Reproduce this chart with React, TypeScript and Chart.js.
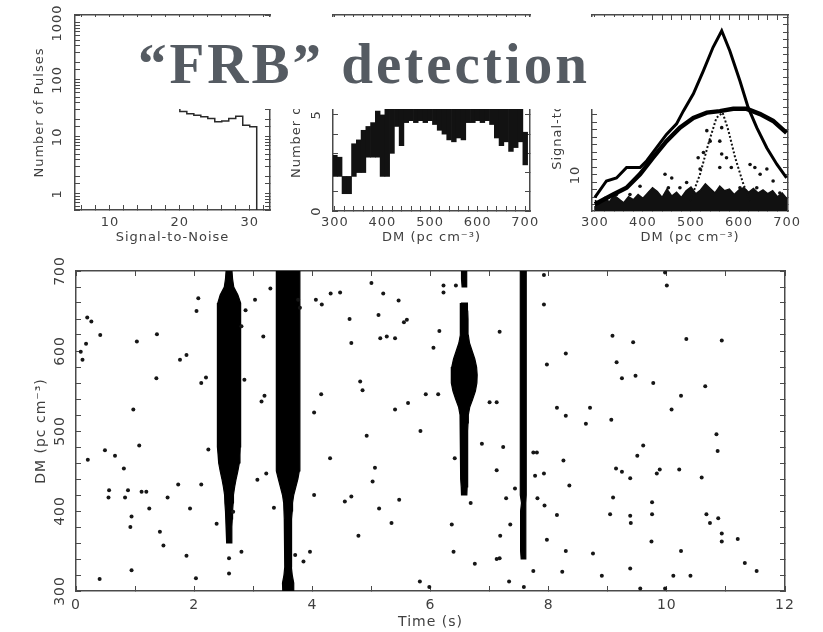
import React, { useEffect, useRef } from "react";
import { Chart, registerables } from "chart.js";
Chart.register(...registerables);

// ---------------- top-left: number of pulses vs signal-to-noise ----------------
const snrBins = [6, 7, 8, 9, 10, 11, 12, 13, 14, 15, 16, 17, 18, 19, 20, 21, 22, 23, 24, 25, 26, 27, 28, 29, 30, 31, 31];
const pulseCounts = [1100, 640, 410, 280, 205, 160, 128, 104, 88, 74, 63, 54, 46, 40, 34, 28, 25.5, 24, 22.5, 21, 18.5, 19, 21, 23, 16, 15, 0.3];

// ---------------- top-middle: number of pulses vs DM (floating histogram) ----------------
const histDM = [300, 310, 320, 330, 340, 350, 360, 370, 380, 390, 400, 410, 420, 430, 440, 450, 460, 470, 480, 490, 500, 510, 520, 530, 540, 550, 560, 570, 580, 590, 600, 610, 620, 630, 640, 650, 660, 670, 680, 690, 700];
const histLow = [1.8, 1.8, 0.9, 0.9, 1.8, 2.0, 2.0, 2.8, 2.8, 2.8, 1.8, 1.8, 3.0, 4.4, 3.4, 4.6, 4.7, 4.6, 4.7, 4.6, 4.7, 4.5, 4.2, 4.0, 3.7, 3.6, 3.8, 3.7, 4.6, 4.6, 4.7, 4.6, 4.7, 4.5, 3.8, 3.4, 3.6, 3.1, 3.3, 3.6, 2.4];
const histHigh = [2.9, 2.8, 1.8, 1.8, 3.5, 3.7, 4.2, 4.4, 4.6, 5.2, 5.0, 5.6, 6.3, 6.8, 7.4, 7.0, 7.8, 7.2, 8.0, 7.5, 7.9, 7.1, 7.6, 8.1, 7.4, 7.7, 8.4, 7.8, 7.2, 7.9, 7.5, 7.0, 7.6, 7.1, 6.8, 7.3, 6.6, 6.9, 6.2, 5.8, 4.1];

// ---------------- top-right: signal-to-noise vs DM ----------------
const triDM = [300, 324, 345, 366, 394, 408, 428, 449, 470, 484, 505, 526, 546, 564, 581, 602, 619, 637, 658, 679, 699];
const triSN = [7.0, 9.2, 9.6, 11.0, 11.0, 11.9, 13.6, 15.4, 16.8, 18.5, 20.8, 23.9, 27.0, 29.2, 26.5, 22.5, 19.0, 16.3, 13.6, 11.4, 9.6];
const broadDM = [300, 338, 366, 394, 421, 449, 477, 505, 533, 560, 588, 616, 644, 671, 699];
const broadSN = [6.1, 7.4, 8.3, 10.1, 12.3, 14.5, 16.3, 17.6, 18.3, 18.5, 18.8, 18.8, 18.1, 17.2, 15.6];
const narrowDM = [498, 519, 536, 553, 566, 578, 592, 609, 623];
const narrowSN = [6.5, 10.1, 14.1, 17.6, 18.3, 15.9, 12.3, 8.8, 6.5];
const noiseDM = [300, 310, 320, 330, 340, 350, 360, 370, 380, 390, 400, 410, 420, 430, 440, 450, 460, 470, 480, 490, 500, 510, 520, 530, 540, 550, 560, 570, 580, 590, 600, 610, 620, 630, 640, 650, 660, 670, 680, 690, 700];
const noiseSN = [6.6, 6.2, 7.0, 6.4, 7.3, 6.8, 6.3, 7.1, 6.7, 7.4, 6.9, 7.6, 8.3, 7.8, 7.0, 8.1, 7.2, 7.7, 7.0, 7.9, 8.4, 7.5, 8.0, 8.8, 8.2, 7.6, 8.5, 7.9, 8.1, 7.4, 8.0, 8.3, 7.7, 8.2, 7.6, 8.0, 7.5, 7.9, 7.1, 7.6, 6.8];
const rtDotDM = [446, 460, 453, 533, 540, 526, 515, 519, 564, 560, 564, 560, 574, 584, 623, 633, 644, 658, 671, 477, 491, 394, 414, 373, 345, 602, 616, 685, 637];
const rtDotSN = [10.1, 9.6, 8.3, 15.9, 14.5, 13.0, 12.3, 10.8, 16.3, 14.5, 12.8, 11.0, 12.3, 11.0, 11.4, 11.0, 10.1, 10.8, 9.2, 8.3, 9.0, 8.5, 7.6, 7.4, 7.4, 8.3, 7.6, 7.6, 8.3];

// ---------------- bottom: DM vs time ----------------
const dotTime = [
  0.19, 0.26, 0.41, 0.17, 0.08, 0.11, 1.03, 1.37, 1.36, 1.76, 1.87, 2.07, 2.04, 2.12, 2.20, 0.97, 1.07, 0.20, 0.49, 0.66,
  0.81, 0.56, 0.55, 0.83, 0.88, 1.11, 1.19, 1.24, 1.55, 1.73, 1.93, 2.12, 2.24, 0.94, 0.92, 1.42, 1.48, 1.87, 0.94, 0.40,
  2.03, 2.38, 2.59, 2.59, 2.80, 2.66, 2.87, 3.03, 3.29, 3.17, 2.80, 2.85, 3.14, 3.19, 3.07, 3.22, 3.35, 3.76, 3.79, 4.06,
  4.16, 4.31, 4.47, 4.63, 4.66, 4.15, 4.03, 4.30, 4.03, 3.71, 3.85, 3.96, 4.55, 4.66, 4.78, 5.00, 5.20, 5.12, 5.46, 5.60,
  5.55, 5.15, 5.26, 5.40, 4.81, 4.85, 5.40, 5.62, 4.92, 5.06, 5.02, 5.13, 5.47, 5.34,
  6.22, 6.22, 6.43, 6.15, 6.05, 7.17, 5.92, 6.13, 7.00, 7.12, 5.83, 6.41, 6.87, 7.23, 7.12, 7.43, 7.28, 6.68, 6.36, 7.35,
  7.18, 6.39, 7.12, 7.17, 6.75, 5.82, 5.98, 7.33, 7.58, 7.92, 7.92, 7.97, 8.29, 8.14, 8.29, 8.70, 8.63, 7.74, 7.80, 8.25,
  7.77, 7.92, 8.35, 7.81, 7.93, 8.14, 7.97, 8.29, 8.75, 7.74, 8.23, 8.90, 9.08, 9.43, 9.15, 9.24, 9.47, 9.77, 9.06, 9.60,
  9.50, 9.14, 9.24, 9.38, 9.83, 9.88, 9.09, 9.04, 9.38, 9.39, 9.75, 9.75, 9.74, 9.38, 9.55, 9.97, 9.97, 10.00, 10.11, 10.40,
  10.24, 10.21, 10.08, 10.24, 10.33, 10.65, 10.93, 10.84, 10.86, 10.59, 10.67, 10.73, 10.87, 10.93, 10.93, 11.20, 11.32, 11.52
];
const dotDM = [
  642, 637, 620, 609, 599, 589, 612, 621, 566, 589, 595, 666, 650, 560, 567, 527, 482, 464, 476, 469,
  453, 426, 417, 417, 426, 424, 424, 403, 417, 433, 403, 433, 477, 393, 380, 374, 357, 344, 326, 315,
  316, 384, 341, 322, 349, 399, 651, 664, 678, 618, 631, 564, 537, 544, 439, 447, 404, 664, 654, 664,
  658, 672, 673, 640, 610, 546, 523, 466, 420, 345, 337, 349, 412, 418, 369, 685, 672, 645, 663, 639,
  636, 616, 618, 616, 562, 551, 527, 535, 494, 454, 437, 403, 414, 385,
  682, 673, 682, 625, 604, 624, 546, 546, 536, 536, 500, 466, 484, 480, 451, 428, 416, 410, 383, 383,
  369, 349, 340, 341, 334, 312, 305, 312, 305, 695, 658, 583, 597, 529, 519, 529, 509, 473, 473, 463,
  444, 447, 432, 416, 407, 395, 364, 350, 347, 325, 324, 319, 619, 611, 586, 566, 569, 560, 514, 482,
  469, 453, 449, 441, 447, 452, 417, 396, 394, 385, 411, 396, 362, 328, 303, 303, 698, 682, 319, 319,
  350, 452, 527, 544, 615, 556, 613, 496, 475, 442, 396, 385, 391, 372, 362, 365, 335, 325
];
const burstDM = [710, 700, 690, 680, 670, 660, 650, 640, 630, 620, 610, 600, 590, 580, 570, 560, 550, 540, 530, 520, 510, 500, 490, 480, 470, 460, 450, 440, 430, 420, 410, 400, 390, 380, 370, 360, 350, 340, 330, 320, 310, 300];
const burstCenter = [2.59, 3.59, 6.57, 7.57];
const burstWidthA = [null, 0.10, 0.12, 0.16, 0.30, 0.38, 0.39, 0.39, 0.40, 0.40, 0.40, 0.40, 0.40, 0.40, 0.40, 0.40, 0.39, 0.39, 0.39, 0.39, 0.39, 0.38, 0.38, 0.38, 0.37, 0.35, 0.30, 0.24, 0.19, 0.15, 0.14, 0.12, 0.11, 0.10, 0.09, 0.07, null, null, null, null, null, null];
const burstWidthB = [0.28, 0.38, 0.39, 0.40, 0.40, 0.40, 0.40, 0.40, 0.40, 0.40, 0.40, 0.40, 0.40, 0.40, 0.40, 0.40, 0.40, 0.40, 0.40, 0.40, 0.40, 0.40, 0.40, 0.40, 0.40, 0.39, 0.38, 0.33, 0.26, 0.19, 0.15, 0.14, 0.13, 0.12, 0.12, 0.11, 0.11, 0.11, 0.11, 0.14, 0.19, 0.18];
const burstWidthC = [null, 0.08, 0.09, 0.07, null, 0.11, 0.12, 0.13, 0.13, 0.14, 0.18, 0.27, 0.36, 0.42, 0.44, 0.43, 0.38, 0.29, 0.19, 0.14, 0.13, 0.12, 0.12, 0.12, 0.12, 0.12, 0.11, 0.11, 0.10, 0.09, null, null, null, null, null, null, null, null, null, null, null, null];
const burstWidthD = [null, 0.10, 0.10, 0.10, 0.10, 0.10, 0.10, 0.10, 0.10, 0.10, 0.10, 0.10, 0.10, 0.10, 0.10, 0.10, 0.10, 0.10, 0.10, 0.10, 0.10, 0.10, 0.10, 0.10, 0.10, 0.10, 0.10, 0.10, 0.10, 0.10, 0.06, 0.09, 0.09, 0.09, 0.09, 0.09, 0.09, 0.07, null, null, null, null];

const FONT = "DejaVu Sans";
const TXT = "#3f3f3f";
const AXIS = "#4a4a4a";
const DM_TITLE = "DM (pc cm\u207B\u00B3)";

type Ax = { type: string; min: number; max: number; step?: number; show: (v: number) => boolean; title: string };
type Geo = { font: number; yWidth: number; xHeight: number; xTickPad: number; yTickPad: number; xTitlePad: number; yTitlePad: number };

function frame(ax: Ax, pos: string, g: Geo) {
  const isX = pos === "bottom" || pos === "top";
  const outer = pos === "bottom" || pos === "left";
  const font = { family: FONT, size: g.font };
  const ticks: any = {
    autoSkip: false,
    includeBounds: false,
    font,
    color: TXT,
    display: outer,
    callback: (v: any) => (ax.show(Number(v)) ? String(Number(v)) : ""),
  };
  if (ax.step) ticks.stepSize = ax.step;
  if (isX) {
    ticks.minRotation = 0;
    ticks.maxRotation = 0;
    ticks.padding = g.xTickPad;
  } else {
    ticks.minRotation = 90;
    ticks.maxRotation = 90;
    ticks.crossAlign = "center";
    ticks.padding = g.yTickPad;
  }
  return {
    type: ax.type,
    axis: isX ? "x" : "y",
    position: pos,
    min: ax.min,
    max: ax.max,
    offset: false,
    grid: { drawOnChartArea: false, drawTicks: true, tickLength: -5, color: AXIS, lineWidth: 1, offset: false },
    border: { display: true, color: AXIS, width: 1.5 },
    ticks,
    title: outer
      ? { display: true, text: ax.title, font, color: TXT, padding: isX ? { top: 0, bottom: g.xTitlePad } : { top: g.yTitlePad, bottom: 0 } }
      : { display: false },
    afterFit: (s: any) => {
      if (isX) s.height = outer ? g.xHeight : 0;
      else s.width = outer ? g.yWidth : 0;
      s.paddingTop = 0;
      s.paddingBottom = 0;
      s.paddingLeft = 0;
      s.paddingRight = 0;
    },
  };
}

function scalesFor(x: Ax, y: Ax, g: Geo) {
  return {
    x: frame(x, "bottom", g),
    y: frame(y, "left", g),
    x2: frame(x, "top", g),
    y2: frame(y, "right", g),
  };
}

const spacingPlugin = {
  id: "letterSpacing",
  beforeUpdate(c: any) {
    c.ctx.letterSpacing = "1px";
  },
  beforeDraw(c: any) {
    c.ctx.letterSpacing = "1px";
  },
};

function baseOptions(scales: any, padding: any) {
  return {
    responsive: false,
    animation: false,
    devicePixelRatio: 1,
    events: [],
    layout: { padding },
    plugins: { legend: { display: false }, tooltip: { enabled: false }, title: { display: false } },
    scales,
  };
}

const isPow10 = (v: number) => v >= 1 && Math.abs(Math.log10(v) - Math.round(Math.log10(v))) < 1e-6;

// outline polygons (left edge down, right edge back up) for each contiguous run of a burst
function burstOutlines() {
  const widths = [burstWidthA, burstWidthB, burstWidthC, burstWidthD];
  const sets: any[] = [];
  widths.forEach((w, k) => {
    const c = burstCenter[k];
    let run: number[] = [];
    const flush = () => {
      if (run.length) {
        const left = run.map((i) => ({ x: c - (w[i] as number) / 2, y: burstDM[i] }));
        const right = run
          .slice()
          .reverse()
          .map((i) => ({ x: c + (w[i] as number) / 2, y: burstDM[i] }));
        sets.push({
          type: "line",
          data: [...left, ...right, left[0]],
          fill: "shape",
          backgroundColor: "#000",
          borderColor: "#000",
          borderWidth: 1.2,
          pointRadius: 0,
          tension: 0,
        });
      }
      run = [];
    };
    burstDM.forEach((_dm, i) => {
      if (w[i] == null) flush();
      else run.push(i);
    });
    flush();
  });
  return sets;
}

export default function App() {
  const cLeft = useRef<HTMLCanvasElement>(null);
  const cMid = useRef<HTMLCanvasElement>(null);
  const cRight = useRef<HTMLCanvasElement>(null);
  const cBottom = useRef<HTMLCanvasElement>(null);

  useEffect(() => {
    const charts: Chart[] = [];

    // top-left
    charts.push(
      new Chart(cLeft.current as HTMLCanvasElement, {
        type: "scatter",
        data: {
          datasets: [
            {
              data: snrBins.map((s, i) => ({ x: s, y: pulseCounts[i] })),
              showLine: true,
              stepped: "after",
              borderColor: "#2a2a2a",
              borderWidth: 1.5,
              pointRadius: 0,
            } as any,
          ],
        },
        options: baseOptions(
          scalesFor(
            { type: "linear", min: 5, max: 32.9, step: 2, show: (v) => v % 10 === 0, title: "Signal-to-Noise" },
            { type: "logarithmic", min: 0.52, max: 1380, show: isPow10, title: "Number of Pulses" },
            { font: 13, yWidth: 75, xHeight: 40, xTickPad: 10.3, yTickPad: 3.5, xTitlePad: 4.2, yTitlePad: 32 }
          ),
          { left: 0, right: 30, top: 15, bottom: 0 }
        ) as any,
        plugins: [spacingPlugin],
      })
    );

    // top-middle
    charts.push(
      new Chart(cMid.current as HTMLCanvasElement, {
        type: "bar",
        data: {
          datasets: [
            {
              data: histDM.map((d, i) => ({ x: d, y: [histLow[i], histHigh[i]] })),
              backgroundColor: "#121212",
              borderWidth: 0,
              categoryPercentage: 1,
              barPercentage: 1,
            } as any,
          ],
        },
        options: baseOptions(
          scalesFor(
            { type: "linear", min: 296, max: 710, step: 20, show: (v) => v % 100 === 0, title: DM_TITLE },
            { type: "linear", min: 0, max: 10.2, step: 1, show: (v) => v === 0 || v === 5, title: "Number of Pulses" },
            { font: 13, yWidth: 63, xHeight: 39, xTickPad: 9.3, yTickPad: 16.4, xTitlePad: 4.2, yTitlePad: 19 }
          ),
          { left: 0, right: 20, top: 15, bottom: 0 }
        ) as any,
        plugins: [spacingPlugin],
      })
    );

    // top-right
    charts.push(
      new Chart(cRight.current as HTMLCanvasElement, {
        type: "line",
        data: {
          datasets: [
            {
              data: triDM.map((d, i) => ({ x: d, y: triSN[i] })),
              borderColor: "#000",
              borderWidth: 3,
              pointRadius: 0,
              fill: false,
            },
            {
              data: broadDM.map((d, i) => ({ x: d, y: broadSN[i] })),
              borderColor: "#000",
              borderWidth: 4.5,
              pointRadius: 0,
              fill: false,
            },
            {
              data: narrowDM.map((d, i) => ({ x: d, y: narrowSN[i] })),
              borderColor: "#111",
              borderWidth: 2,
              borderDash: [2, 2],
              pointRadius: 0,
              fill: false,
            },
            {
              data: noiseDM.map((d, i) => ({ x: d, y: noiseSN[i] })),
              borderColor: "#111",
              backgroundColor: "#111",
              borderWidth: 1.5,
              pointRadius: 0,
              fill: "start",
            },
            {
              type: "scatter",
              data: rtDotDM.map((d, i) => ({ x: d, y: rtDotSN[i] })),
              backgroundColor: "#111",
              borderWidth: 0,
              pointRadius: 1.8,
            },
          ] as any,
        },
        options: baseOptions(
          scalesFor(
            { type: "linear", min: 294, max: 702, step: 20, show: (v) => v % 100 === 0, title: DM_TITLE },
            { type: "linear", min: 5.2, max: 31.3, step: 1, show: (v) => v === 10 || v === 20 || v === 30, title: "Signal-to-Noise" },
            { font: 13, yWidth: 52, xHeight: 39, xTickPad: 9.3, yTickPad: 12.2, xTitlePad: 4.2, yTitlePad: 10 }
          ),
          { left: 0, right: 35, top: 15, bottom: 0 }
        ) as any,
        plugins: [spacingPlugin],
      })
    );

    // bottom
    charts.push(
      new Chart(cBottom.current as HTMLCanvasElement, {
        type: "scatter",
        data: {
          datasets: [
            {
              type: "scatter",
              data: dotTime.map((t, i) => ({ x: t, y: dotDM[i] })),
              backgroundColor: "#161616",
              borderWidth: 0,
              pointRadius: 2,
            },
            ...burstOutlines(),
          ] as any,
        },
        options: baseOptions(
          scalesFor(
            { type: "linear", min: 0, max: 12, step: 1, show: (v) => v % 2 === 0, title: "Time (s)" },
            { type: "linear", min: 300, max: 700, step: 20, show: (v) => v % 100 === 0, title: DM_TITLE },
            { font: 14, yWidth: 76, xHeight: 41, xTickPad: 10.9, yTickPad: 6.1, xTitlePad: 1.2, yTitlePad: 33 }
          ),
          { left: 0, right: 38, top: 21, bottom: 0 }
        ) as any,
        plugins: [spacingPlugin],
      })
    );

    return () => charts.forEach((c) => c.destroy());
  }, []);

  const abs = (l: number, t: number, w: number, h: number): React.CSSProperties => ({
    position: "absolute",
    left: l,
    top: t,
    width: w,
    height: h,
  });

  return (
    <div style={{ position: "absolute", left: 0, top: 0, width: 823, height: 632, background: "#fff", overflow: "hidden" }}>
      <canvas ref={cLeft} width={300} height={250} style={abs(0, 0, 300, 250)} />
      <canvas ref={cMid} width={280} height={250} style={abs(270, 0, 280, 250)} />
      <canvas ref={cRight} width={283} height={250} style={abs(540, 0, 283, 250)} />
      <canvas ref={cBottom} width={823} height={382} style={abs(0, 250, 823, 382)} />
      <div style={{ ...abs(81, 17, 569, 92), background: "#fff" }}>
        <span
          style={{
            position: "absolute",
            left: 57,
            top: 18.3,
            fontFamily: "'Liberation Serif', serif",
            fontWeight: 700,
            fontSize: 57,
            lineHeight: "57px",
            letterSpacing: 3,
            color: "#555b62",
            whiteSpace: "nowrap",
          }}
        >
          {"\u201CFRB\u201D detection"}
        </span>
      </div>
    </div>
  );
}
